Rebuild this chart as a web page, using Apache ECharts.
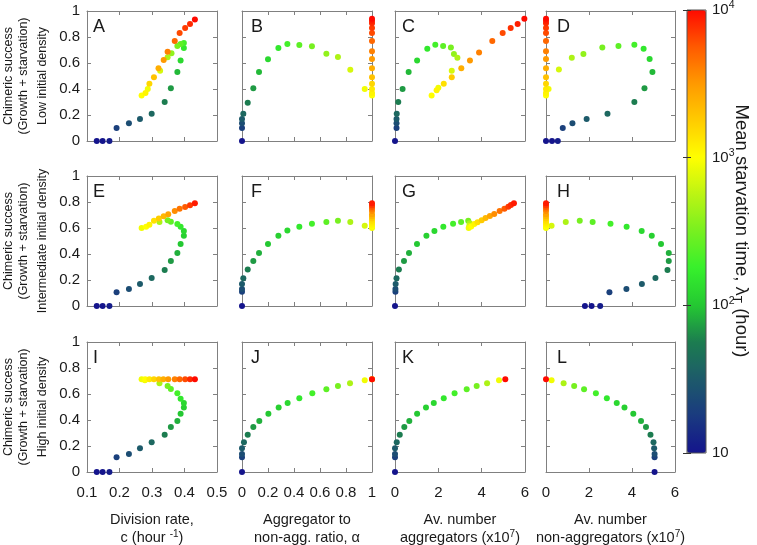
<!DOCTYPE html>
<html><head><meta charset="utf-8">
<script src="https://cdn.jsdelivr.net/npm/echarts@6/dist/echarts.min.js"></script>
<style>html,body{margin:0;padding:0;background:#fff}#c{width:757px;height:545px}</style>
</head><body><div id="c"></div>
<script>
// Each point: [x value, chimeric success, log10 of mean starvation time (hours)]
// Row 1: low initial density
const panelA = [[0.130,0,1.0],[0.148,0,1.0],[0.169,0,1.05],[0.191,0.10,1.3],[0.229,0.136,1.4],[0.263,0.17,1.5],[0.299,0.21,1.6],[0.339,0.30,1.75],[0.358,0.405,1.85],[0.378,0.53,1.95],[0.388,0.62,2.1],[0.398,0.715,2.2],[0.398,0.754,2.3],[0.388,0.746,2.4],[0.378,0.73,2.5],[0.36,0.675,2.6],[0.348,0.644,2.7],[0.325,0.54,2.85],[0.287,0.40,2.95],[0.268,0.35,3.0],[0.28,0.37,3.05],[0.292,0.44,3.2],[0.306,0.49,3.3],[0.32,0.56,3.4],[0.336,0.623,3.5],[0.348,0.687,3.6],[0.37,0.77,3.7],[0.385,0.83,3.8],[0.402,0.87,3.85],[0.417,0.90,3.9],[0.432,0.935,4.0]];
const panelB = [[0,0,1.0],[0,0.10,1.3],[0,0.136,1.4],[0,0.17,1.5],[0.01,0.21,1.6],[0.044,0.295,1.75],[0.087,0.405,1.85],[0.131,0.53,1.95],[0.20,0.628,2.1],[0.28,0.715,2.2],[0.349,0.746,2.3],[0.441,0.738,2.4],[0.538,0.728,2.5],[0.649,0.672,2.6],[0.738,0.646,2.7],[0.833,0.549,2.85],[0.944,0.40,2.95],[1,0.35,3.0],[1,0.37,3.05],[1,0.40,3.1],[1,0.44,3.2],[1,0.49,3.3],[1,0.56,3.4],[1,0.63,3.5],[1,0.69,3.6],[1,0.77,3.7],[1,0.83,3.8],[1,0.87,3.85],[1,0.905,3.9],[1,0.925,3.95],[1,0.94,4.0]];
const panelC = [[0,0,1.0],[0.07,0.10,1.3],[0.07,0.136,1.4],[0.07,0.17,1.5],[0.08,0.21,1.6],[0.15,0.30,1.75],[0.35,0.40,1.85],[0.63,0.53,1.95],[1.02,0.62,2.1],[1.49,0.71,2.2],[1.86,0.74,2.3],[2.22,0.73,2.4],[2.58,0.72,2.5],[2.72,0.67,2.6],[2.88,0.64,2.7],[2.62,0.54,2.85],[2.0,0.41,2.95],[1.69,0.35,3.0],[1.92,0.39,3.05],[2.25,0.44,3.15],[2.62,0.49,3.25],[3.06,0.56,3.4],[3.46,0.62,3.5],[3.88,0.68,3.6],[4.49,0.77,3.7],[4.97,0.83,3.8],[5.34,0.87,3.88],[5.66,0.90,3.94],[5.97,0.94,4.0]];
const panelD = [[0,0,1.0],[0.28,0,1.0],[0.55,0,1.05],[0.78,0.10,1.3],[1.23,0.136,1.4],[1.89,0.17,1.5],[2.86,0.21,1.6],[4.11,0.30,1.75],[4.58,0.405,1.85],[4.95,0.53,1.95],[4.82,0.63,2.1],[4.54,0.71,2.2],[4.11,0.74,2.3],[3.37,0.73,2.4],[2.62,0.72,2.5],[1.74,0.67,2.6],[1.2,0.64,2.7],[0.6,0.55,2.85],[0.12,0.40,2.95],[0,0.35,3.0],[0,0.37,3.05],[0,0.40,3.1],[0,0.44,3.2],[0,0.49,3.3],[0,0.56,3.4],[0,0.63,3.5],[0,0.69,3.6],[0,0.77,3.7],[0,0.83,3.8],[0,0.87,3.85],[0,0.905,3.9],[0,0.925,3.95],[0,0.94,4.0]];
// Row 2: intermediate initial density
const panelE = [[0.130,0,1.0],[0.148,0,1.0],[0.169,0,1.05],[0.191,0.105,1.3],[0.229,0.13,1.4],[0.263,0.17,1.5],[0.299,0.215,1.6],[0.339,0.277,1.75],[0.358,0.346,1.85],[0.378,0.408,1.92],[0.388,0.477,2.0],[0.398,0.54,2.05],[0.398,0.577,2.1],[0.388,0.61,2.2],[0.378,0.63,2.3],[0.358,0.649,2.4],[0.348,0.659,2.5],[0.323,0.646,2.7],[0.268,0.60,2.95],[0.282,0.61,3.0],[0.292,0.625,3.05],[0.306,0.656,3.15],[0.321,0.674,3.25],[0.336,0.69,3.35],[0.350,0.706,3.45],[0.37,0.73,3.55],[0.385,0.749,3.65],[0.402,0.762,3.75],[0.417,0.775,3.85],[0.432,0.79,3.95]];
const panelF = [[0,0,1.0],[0,0.11,1.3],[0,0.13,1.4],[0,0.17,1.5],[0.01,0.213,1.6],[0.044,0.28,1.75],[0.087,0.346,1.85],[0.131,0.408,1.92],[0.2,0.477,2.0],[0.28,0.54,2.05],[0.349,0.58,2.1],[0.441,0.61,2.2],[0.538,0.633,2.3],[0.649,0.646,2.4],[0.738,0.656,2.5],[0.833,0.646,2.7],[0.944,0.618,2.85],[1,0.60,2.95],[1,0.61,3.0],[1,0.625,3.05],[1,0.64,3.1],[1,0.656,3.15],[1,0.674,3.25],[1,0.69,3.35],[1,0.706,3.45],[1,0.73,3.55],[1,0.749,3.65],[1,0.762,3.75],[1,0.775,3.85],[1,0.79,3.95]];
const panelG = [[0,0,1.0],[0.02,0.11,1.3],[0.02,0.13,1.4],[0.03,0.17,1.5],[0.07,0.213,1.6],[0.18,0.28,1.75],[0.415,0.346,1.85],[0.646,0.408,1.92],[1.015,0.477,2.0],[1.45,0.54,2.05],[1.82,0.577,2.1],[2.23,0.61,2.2],[2.68,0.633,2.3],[3.05,0.646,2.4],[3.38,0.656,2.5],[3.45,0.637,2.7],[3.43,0.618,2.85],[3.40,0.60,2.95],[3.52,0.612,3.0],[3.66,0.63,3.05],[3.81,0.644,3.15],[4.0,0.659,3.25],[4.18,0.677,3.35],[4.38,0.692,3.45],[4.58,0.708,3.55],[4.83,0.731,3.65],[5.05,0.749,3.75],[5.23,0.764,3.85],[5.35,0.777,3.9],[5.49,0.79,3.95]];
const panelH = [[1.81,0,1.0],[2.12,0,1.0],[2.52,0,1.05],[2.95,0.105,1.3],[3.74,0.13,1.4],[4.46,0.17,1.5],[5.09,0.215,1.6],[5.65,0.277,1.75],[5.71,0.346,1.85],[5.71,0.408,1.92],[5.35,0.477,2.0],[4.92,0.54,2.05],[4.45,0.577,2.1],[3.75,0.61,2.2],[3.0,0.633,2.3],[2.17,0.646,2.4],[1.57,0.656,2.5],[0.92,0.646,2.7],[0.26,0.618,2.85],[0,0.60,2.95],[0,0.61,3.0],[0,0.625,3.05],[0,0.64,3.1],[0,0.656,3.15],[0,0.674,3.25],[0,0.69,3.35],[0,0.706,3.45],[0,0.73,3.55],[0,0.749,3.65],[0,0.762,3.75],[0,0.775,3.85],[0,0.79,3.95]];
// Row 3: high initial density
const panelI = [[0.130,0,1.0],[0.148,0,1.0],[0.169,0,1.05],[0.191,0.113,1.3],[0.229,0.138,1.4],[0.263,0.182,1.5],[0.299,0.228,1.6],[0.339,0.287,1.75],[0.358,0.346,1.85],[0.378,0.392,1.92],[0.388,0.449,2.0],[0.398,0.497,2.05],[0.398,0.53,2.1],[0.388,0.564,2.2],[0.378,0.605,2.3],[0.358,0.638,2.4],[0.348,0.662,2.5],[0.323,0.682,2.7],[0.278,0.705,2.95],[0.268,0.713,2.95],[0.279,0.713,3.0],[0.292,0.713,3.1],[0.306,0.713,3.2],[0.321,0.713,3.3],[0.335,0.713,3.4],[0.35,0.713,3.5],[0.37,0.713,3.6],[0.385,0.713,3.7],[0.402,0.713,3.8],[0.417,0.713,3.9],[0.432,0.713,4.0]];
const panelJ = [[0,0,1.0],[0,0.113,1.3],[0,0.138,1.4],[0,0.182,1.5],[0.015,0.228,1.6],[0.044,0.287,1.75],[0.087,0.346,1.85],[0.133,0.392,1.92],[0.203,0.449,2.0],[0.282,0.497,2.05],[0.351,0.53,2.1],[0.441,0.567,2.2],[0.541,0.605,2.3],[0.649,0.636,2.4],[0.738,0.662,2.5],[0.831,0.682,2.7],[0.944,0.705,2.95],[1,0.713,3.0],[1,0.713,3.5],[1,0.713,4.0]];
const panelK = [[0,0,1.0],[0,0.113,1.3],[0,0.138,1.4],[0,0.182,1.5],[0.08,0.228,1.6],[0.22,0.287,1.75],[0.43,0.346,1.85],[0.66,0.392,1.92],[1.02,0.449,2.0],[1.43,0.497,2.05],[1.79,0.53,2.1],[2.25,0.567,2.2],[2.75,0.605,2.3],[3.31,0.636,2.4],[3.77,0.662,2.5],[4.25,0.682,2.7],[4.80,0.705,2.95],[5.09,0.713,4.0]];
const panelL = [[5.05,0,1.0],[5.05,0.113,1.3],[5.05,0.138,1.4],[5.03,0.182,1.5],[5.0,0.228,1.6],[4.86,0.287,1.75],[4.65,0.346,1.85],[4.42,0.392,1.92],[4.06,0.449,2.0],[3.65,0.497,2.05],[3.29,0.53,2.1],[2.83,0.567,2.2],[2.32,0.605,2.3],[1.77,0.636,2.4],[1.31,0.662,2.5],[0.82,0.682,2.7],[0.26,0.705,2.95],[0,0.713,4.0]];

const panels = [[panelA,panelB,panelC,panelD],[panelE,panelF,panelG,panelH],[panelI,panelJ,panelK,panelL]];
const panelLetters = [['A','B','C','D'],['E','F','G','H'],['I','J','K','L']];
const rowLabels = ['Low initial density','Intermediate initial density','High initial density'];
const xRanges = [{min:0.1,max:0.5,interval:0.1},{min:0,max:1,interval:0.2},{min:0,max:6,interval:2},{min:0,max:6,interval:2}];
const xNames = ['Division rate,\nc (hour {sup|-1})','Aggregator to\nnon-agg. ratio, α','Av. number\naggregators (x10{sup|7})','Av. number\nnon-aggregators (x10{sup|7})'];
const yRange = {min:0,max:1,interval:0.2};
const colorbarTicks = [10,100,1000,10000];
const colorbarTitle = 'Mean starvation time, λ{sub|T} (hour)';

// layout / style
const FONT = 'Liberation Sans, Arial, sans-serif';
const colLeft = [87,242,395,546];
const rowTop = [11,176,342];
const W = 130, H = 130;
const letterDx = [6,9,7,11];
const axisColor = '#808080';
const textColor = '#1a1a1a';
const cmap = ['#14148c','#1a3a80','#1d5a6a','#1c7c50','#24c832','#36f02c','#77f020','#bbf414','#ffff00','#ffcc00','#ff9a00','#ff5a00','#ff0a00'];

const grid=[], xAxis=[], yAxis=[], series=[], graphic=[];
for (let r=0;r<3;r++){
  for (let c=0;c<4;c++){
    const gi = grid.length;
    grid.push({left:colLeft[c], top:rowTop[r], width:(c===3?129:W), height:H, show:false, containLabel:false, outerBoundsMode:'none'});
    const line = {show:true, onZero:false, lineStyle:{color:axisColor, width:1}};
    const tick = {show:true, inside:true, length:4, lineStyle:{color:axisColor}};
    const xb = Object.assign({gridIndex:gi, type:'value', position:'bottom', axisLine:line, axisTick:tick, splitLine:{show:false},
      axisLabel:{show:r===2, fontSize:15, color:textColor, fontFamily:FONT, margin:13}}, xRanges[c]);
    if (r===2){
      xb.name = xNames[c]; xb.nameLocation='middle'; xb.nameGap=39;
      xb.nameTextStyle = {fontSize:14.5, color:textColor, fontFamily:FONT, lineHeight:18, rich:{sup:{fontSize:10, padding:[0,0,8,0], fontFamily:FONT, color:textColor}}};
    }
    xAxis.push(xb);
    xAxis.push(Object.assign({gridIndex:gi, type:'value', position:'top', axisLine:line, axisTick:tick, splitLine:{show:false}, axisLabel:{show:false}}, xRanges[c]));
    yAxis.push(Object.assign({gridIndex:gi, type:'value', position:'left', axisLine:line, axisTick:tick, splitLine:{show:false},
      axisLabel:{show:c===0, fontSize:15, color:textColor, fontFamily:FONT, margin:7}}, yRange));
    yAxis.push(Object.assign({gridIndex:gi, type:'value', position:'right', axisLine:line, axisTick:tick, splitLine:{show:false}, axisLabel:{show:false}}, yRange));
    series.push({type:'scatter', xAxisIndex:2*gi, yAxisIndex:2*gi, data:panels[r][c], symbolSize:6, itemStyle:{opacity:1}, silent:true});
    graphic.push({type:'text', x:colLeft[c]+letterDx[c], y:rowTop[r]+16, style:{text:panelLetters[r][c], fontSize:18, fontFamily:FONT, fill:textColor, align:'left', verticalAlign:'middle'}});
  }
  const cy = rowTop[r]+65;
  graphic.push({type:'text', x:9, y:cy, rotation:Math.PI/2, style:{text:'Chimeric success', fontSize:12.5, fontFamily:FONT, fill:textColor, align:'center', verticalAlign:'middle'}});
  graphic.push({type:'text', x:24, y:cy, rotation:Math.PI/2, style:{text:'(Growth + starvation)', fontSize:12.5, fontFamily:FONT, fill:textColor, align:'center', verticalAlign:'middle'}});
  graphic.push({type:'text', x:43, y:cy, rotation:Math.PI/2, style:{text:rowLabels[r], fontSize:12.5, fontFamily:FONT, fill:textColor, align:'center', verticalAlign:'middle'}});
}
// colorbar axis
const cg = grid.length;
grid.push({left:687, top:10, width:19, height:443, show:true, borderColor:'#555', borderWidth:1, backgroundColor:'transparent', z:10, containLabel:false, outerBoundsMode:'none'});
xAxis.push({gridIndex:cg, type:'value', show:false});
const cbTick = {show:true, inside:true, length:4, lineStyle:{color:'#333'}};
yAxis.push({gridIndex:cg, type:'log', logBase:10, min:colorbarTicks[0], max:colorbarTicks[3], position:'right', z:10,
  axisLine:{show:false}, axisTick:cbTick, splitLine:{show:false},
  axisLabel:{fontSize:15, color:textColor, fontFamily:FONT, margin:6,
    formatter:v=>{const e=Math.round(Math.log10(v)); return e===1?'10':'10{sup|'+e+'}';},
    rich:{sup:{fontSize:10.5, padding:[0,0,9,0], fontFamily:FONT, color:textColor}}}});
yAxis.push({gridIndex:cg, type:'log', logBase:10, min:colorbarTicks[0], max:colorbarTicks[3], position:'left', z:10,
  axisLine:{show:false}, axisTick:cbTick, splitLine:{show:false}, axisLabel:{show:false}});

graphic.push({type:'text', x:741, y:231, rotation:-Math.PI/2, style:{text:colorbarTitle, fontSize:18.5, fontFamily:FONT, fill:textColor, align:'center', verticalAlign:'middle',
  rich:{sub:{fontSize:12, padding:[9,0,0,0], fontFamily:FONT, fill:textColor}}}});

const option = {
  animation:false, backgroundColor:'#fff',
  grid, xAxis, yAxis, series, graphic,
  visualMap:{type:'continuous', min:1, max:4, dimension:2, seriesIndex:series.map((s,i)=>i),
    orient:'vertical', left:687, top:10, itemWidth:19, itemHeight:443, padding:0, calculable:false, text:null,
    inRange:{color:cmap}, hoverLink:false}
};
const chart = echarts.init(document.getElementById('c'), null, {renderer:'canvas'});
chart.setOption(option);
</script></body></html>
